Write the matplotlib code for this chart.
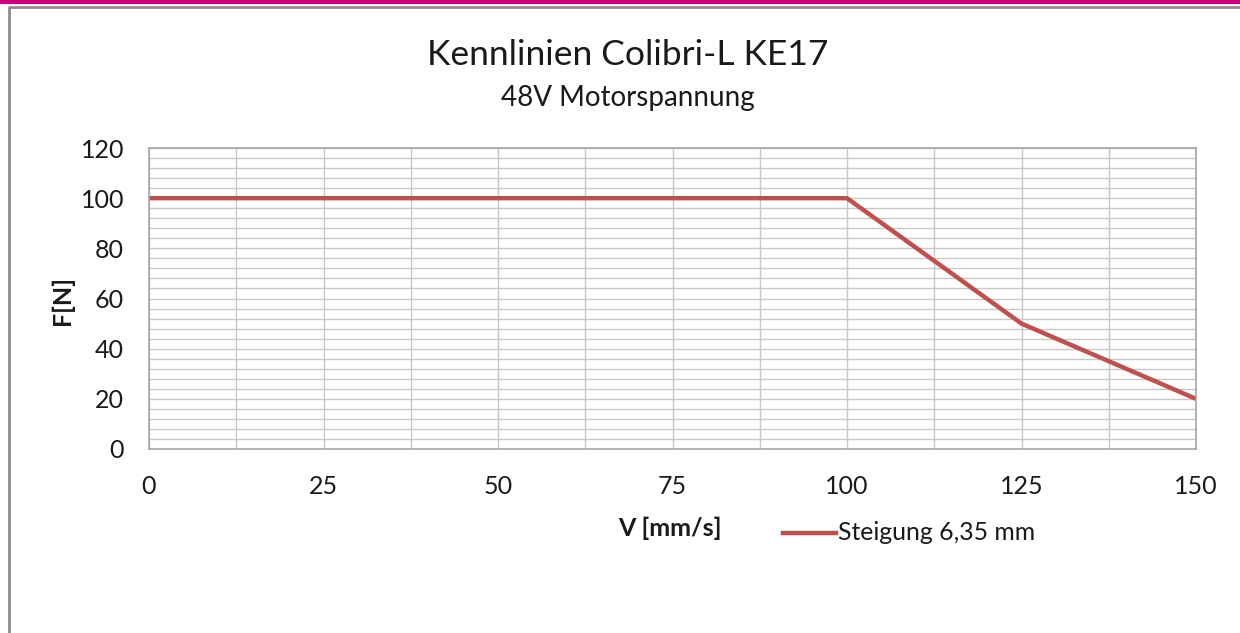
import matplotlib
matplotlib.use("Agg")
import matplotlib.pyplot as plt
import numpy as np
from matplotlib.lines import Line2D

# data
speed = [0, 100, 125, 150]          # V [mm/s]
force = [100, 100, 50, 20]          # F [N]
series_label = "Steigung 6,35 mm"

x_ticks = [0, 25, 50, 75, 100, 125, 150]
y_ticks = [0, 20, 40, 60, 80, 100, 120]

LINE_COLOR = "#C0504D"
GRID_COLOR = "#C8C8C8"
FONT = ["Lato", "DejaVu Sans"]

plt.rcParams["font.family"] = FONT

fig = plt.figure(figsize=(12.4, 6.33), dpi=100)
fig.patch.set_facecolor("white")

# magenta bar + grey frame around the chart area
fig.add_artist(Line2D([0, 1], [1 - 1.5 / 633, 1 - 1.5 / 633], color="#C8007E",
                      lw=3, transform=fig.transFigure))
fig.add_artist(Line2D([9 / 1240, 9 / 1240, 1.0], [0, 1 - 6.5 / 633, 1 - 6.5 / 633],
                      color="#8C8C8C", lw=2, transform=fig.transFigure))

ax = fig.add_axes([149 / 1240, 1 - 449 / 633, (1196 - 149) / 1240, (449 - 148) / 633])

ax.set_xlim(0, 150)
ax.set_ylim(0, 120)
ax.set_xticks(x_ticks)
ax.set_yticks(y_ticks)
ax.set_xticks(np.arange(0, 151, 12.5), minor=True)
ax.set_yticks(np.arange(0, 121, 4), minor=True)
ax.grid(which="both", color=GRID_COLOR, lw=1)
ax.set_axisbelow(True)
ax.tick_params(which="both", length=0, labelsize=18, colors="#1a1a1a")
ax.tick_params(axis="x", pad=19)
ax.tick_params(axis="y", pad=18)
for s in ax.spines.values():
    s.set_color("#A6A6A6")
    s.set_linewidth(1.2)

ax.plot(speed, force, color=LINE_COLOR, lw=3.2, solid_capstyle="butt",
        label=series_label)

fig.text(0.506, 1 - 55 / 633, "Kennlinien Colibri-L KE17", ha="center",
         va="center", fontsize=25.5, color="#1a1a1a")
fig.text(0.506, 1 - 98 / 633, "48V Motorspannung", ha="center",
         va="center", fontsize=20, color="#1a1a1a")

fig.text(62 / 1240, 1 - 300 / 633, "F[N]", rotation=90, ha="center",
         va="center", fontsize=18, fontweight="bold", color="#1a1a1a")
fig.text(670 / 1240, 1 - 528 / 633, "V [mm/s]", ha="center",
         va="center", fontsize=18, fontweight="bold", color="#1a1a1a")

fig.add_artist(Line2D([783 / 1240, 836 / 1240], [1 - 533 / 633, 1 - 533 / 633],
                      color=LINE_COLOR, lw=3.2, transform=fig.transFigure))
fig.text(838 / 1240, 1 - 533 / 633, series_label, ha="left", va="center",
         fontsize=17.8, color="#1a1a1a")

fig.savefig("out.png", dpi=100, facecolor="white")
